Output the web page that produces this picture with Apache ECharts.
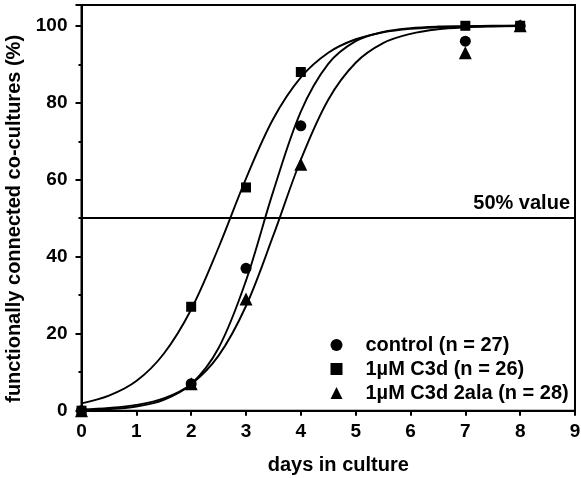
<!DOCTYPE html>
<html>
<head>
<meta charset="utf-8">
<script src="https://cdn.jsdelivr.net/npm/echarts@6/dist/echarts.min.js"></script>
<style>
html,body{margin:0;padding:0;background:#fff;}
#chart{width:581px;height:478px;}
</style>
</head>
<body>
<div id="chart"></div>
<script>
// measured data points
var days = [0, 2, 3, 4, 7, 8];
var controlVals = [0, 7, 37, 74, 96, 100];
var c3dVals = [0, 27, 58, 88, 100, 100];
var alaVals = [0, 7, 29, 64, 93, 100];

// fitted curves
var curveX = [0, 0.5, 1, 1.5, 2, 2.5, 3, 3.5, 4, 4.5, 5, 5.5, 6, 6.5, 7, 7.5, 8];
var fitControl = [0.2, 0.4, 1.1, 2.8, 6.9, 16.3, 33.8, 57.1, 77.7, 90.1, 96.0, 98.4, 99.4, 99.8, 99.9, 100, 100];
var fitC3d = [1.9, 3.9, 7.7, 14.8, 26.3, 42.4, 60.3, 75.9, 86.6, 93.0, 96.5, 98.3, 99.2, 99.6, 99.8, 99.9, 100];
var fitAla = [0.3, 0.7, 1.5, 3.2, 6.9, 14.3, 27.2, 45.6, 65.2, 80.8, 90.4, 95.5, 97.9, 99.1, 99.6, 99.8, 99.9];

var seriesNames = ['control (n = 27)', '1\u00b5M C3d (n = 26)', '1\u00b5M C3d 2ala (n = 28)'];
var xTicks = [0, 1, 2, 3, 4, 5, 6, 7, 8, 9];
var yTicks = [0, 20, 40, 60, 80, 100];
var halfValue = 50;

function pairs(xs, ys) { return xs.map(function (x, i) { return [x, ys[i]]; }); }

var FONT = '"Liberation Sans", Arial, sans-serif';
var chart = echarts.init(document.getElementById('chart'), null, {renderer: 'canvas'});

function curve(ys, extra) {
  var s = {
    type: 'line', data: pairs(curveX, ys), symbol: 'none', smooth: 0.35,
    lineStyle: {color: '#000', width: 1.9}, silent: true, z: 2
  };
  if (extra) for (var k in extra) s[k] = extra[k];
  return s;
}
function pts(name, ys, sym, size) {
  return {
    type: 'scatter', name: name, data: pairs(days, ys), symbol: sym, symbolSize: size,
    itemStyle: {color: '#000', opacity: 1}, clip: false, z: 5
  };
}

chart.setOption({
  backgroundColor: '#fff',
  animation: false,
  grid: {left: 81.5, right: 6, top: 5, bottom: 67.3, containLabel: false, outerBoundsMode: 'none',
    show: true, borderColor: '#000', borderWidth: 2},
  xAxis: {
    type: 'value', min: 0, max: 9, interval: 1,
    name: 'days in culture', nameLocation: 'middle', nameGap: 45,
    nameTextStyle: {fontFamily: FONT, fontWeight: 'bold', fontSize: 20, color: '#000', padding: [0, 0, 0, 20]},
    axisLine: {show: true, onZero: false, lineStyle: {color: '#000', width: 2}},
    axisTick: {show: true, inside: false, length: 5, lineStyle: {color: '#000', width: 2}},
    axisLabel: {fontFamily: FONT, fontWeight: 'bold', fontSize: 19, color: '#000', margin: 12,
      formatter: function (v) { return xTicks.indexOf(v) >= 0 ? String(v) : ''; }},
    splitLine: {show: false}
  },
  yAxis: {
    type: 'value', min: 0, max: 105.4, interval: 20,
    name: 'functionally connected co-cultures (%)', nameLocation: 'middle', nameGap: 56,
    nameTextStyle: {fontFamily: FONT, fontWeight: 'bold', fontSize: 20, color: '#000', padding: [0, 22, 0, 0]},
    axisLine: {show: true, onZero: false, lineStyle: {color: '#000', width: 2}},
    axisTick: {show: true, inside: false, length: 6, lineStyle: {color: '#000', width: 2}},
    minorTick: {show: true, splitNumber: 2, length: 3, lineStyle: {color: '#000', width: 2}},
    axisLabel: {fontFamily: FONT, fontWeight: 'bold', fontSize: 19, color: '#000', margin: 14,
      formatter: function (v) { return yTicks.indexOf(v) >= 0 ? String(v) : ''; }},
    splitLine: {show: false}
  },
  legend: {
    orient: 'vertical', left: 325.5, top: 330, itemWidth: 12, itemHeight: 12, itemGap: 4,
    selectedMode: false,
    itemStyle: {color: '#000', opacity: 1},
    textStyle: {fontFamily: FONT, fontWeight: 'bold', fontSize: 20, color: '#000', lineHeight: 20, padding: [0, 0, 0, 18]},
    data: [
      {name: seriesNames[0], icon: 'circle'},
      {name: seriesNames[1], icon: 'rect'},
      {name: seriesNames[2], icon: 'triangle'}
    ]
  },
  series: [
    curve(fitC3d, {
      markLine: {
        silent: true, symbol: 'none',
        lineStyle: {color: '#000', width: 1.8, type: 'solid'},
        label: {show: true, position: 'insideEndTop', formatter: '50% value', distance: 5,
          fontFamily: FONT, fontWeight: 'bold', fontSize: 20, color: '#000'},
        data: [{yAxis: halfValue}]
      }
    }),
    curve(fitControl),
    curve(fitAla),
    pts(seriesNames[0], controlVals, 'circle', 11),
    pts(seriesNames[1], c3dVals, 'rect', 10),
    pts(seriesNames[2], alaVals, 'triangle', 13)
  ]
});
</script>
</body>
</html>
